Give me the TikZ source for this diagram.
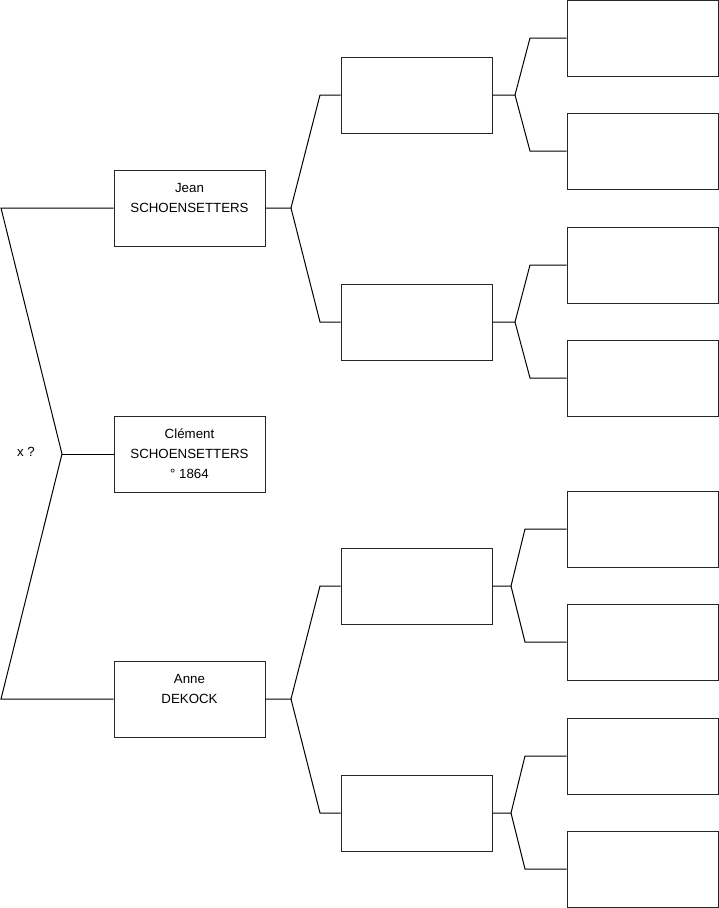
\documentclass[tikz,border=0pt]{standalone}
\usepackage{fontspec}
\setmainfont{Liberation Sans}
\begin{document}
\begin{tikzpicture}[x=1pt,y=-1pt,
  person/.style={draw=black!85,line width=1pt,minimum width=151pt,minimum height=76pt,inner sep=0pt,align=center,font=\fontsize{13.3}{20}\selectfont},
  link/.style={draw=black,line width=1pt}]
\useasboundingbox (0,0) rectangle (719,908);
% level 1
\node[person] (jean) at (189.5,208) {\strut Jean\\\strut SCHOENSETTERS\\\strut};
\node[person] (clement) at (189.5,454) {\strut Clément\\\strut SCHOENSETTERS\\\strut ° 1864};
\node[person] (anne) at (189.5,699) {\strut Anne\\\strut DEKOCK\\\strut};
% level 2
\node[person] (f) at (416.5,95) {};
\node[person] (m) at (416.5,322) {};
\node[person] (ff) at (416.5,586) {};
\node[person] (mm) at (416.5,813) {};
% level 3
\node[person] (g1) at (642.5,38) {};
\node[person] (g2) at (642.5,151) {};
\node[person] (g3) at (642.5,265) {};
\node[person] (g4) at (642.5,378) {};
\node[person] (g5) at (642.5,529) {};
\node[person] (g6) at (642.5,642) {};
\node[person] (g7) at (642.5,756) {};
\node[person] (g8) at (642.5,869) {};
% label
\node[font=\fontsize{13.3}{15}\selectfont] (x) at (26,452) {x ?};
% coordinates
\coordinate (a0) at (1,208);
\coordinate (a1) at (62,454);
\coordinate (a2) at (1,699);
\coordinate (j0) at (291,208);
\coordinate (j1) at (320,95);
\coordinate (j2) at (320,322);
\coordinate (n0) at (291,699);
\coordinate (n1) at (320,586);
\coordinate (n2) at (320,813);
\coordinate (f0) at (515,95);
\coordinate (f1) at (530,38);
\coordinate (f2) at (530,151);
\coordinate (m0) at (515,322);
\coordinate (m1) at (530,265);
\coordinate (m2) at (530,378);
\coordinate (p0) at (511,586);
\coordinate (p1) at (525,529);
\coordinate (p2) at (525,642);
\coordinate (q0) at (511,813);
\coordinate (q1) at (525,756);
\coordinate (q2) at (525,869);
% connectors
\draw[link] (jean.west) -- (a0) -- (a1) -- (a2) -- (anne.west);
\draw[link] (a1) -- (clement.west);
\draw[link] (jean.east) -- (j0) -- (j1) -- (f.west);
\draw[link] (j0) -- (j2) -- (m.west);
\draw[link] (anne.east) -- (n0) -- (n1) -- (ff.west);
\draw[link] (n0) -- (n2) -- (mm.west);
\draw[link] (f.east) -- (f0) -- (f1) -- (g1.west);
\draw[link] (f0) -- (f2) -- (g2.west);
\draw[link] (m.east) -- (m0) -- (m1) -- (g3.west);
\draw[link] (m0) -- (m2) -- (g4.west);
\draw[link] (ff.east) -- (p0) -- (p1) -- (g5.west);
\draw[link] (p0) -- (p2) -- (g6.west);
\draw[link] (mm.east) -- (q0) -- (q1) -- (g7.west);
\draw[link] (q0) -- (q2) -- (g8.west);
\end{tikzpicture}
\end{document}
